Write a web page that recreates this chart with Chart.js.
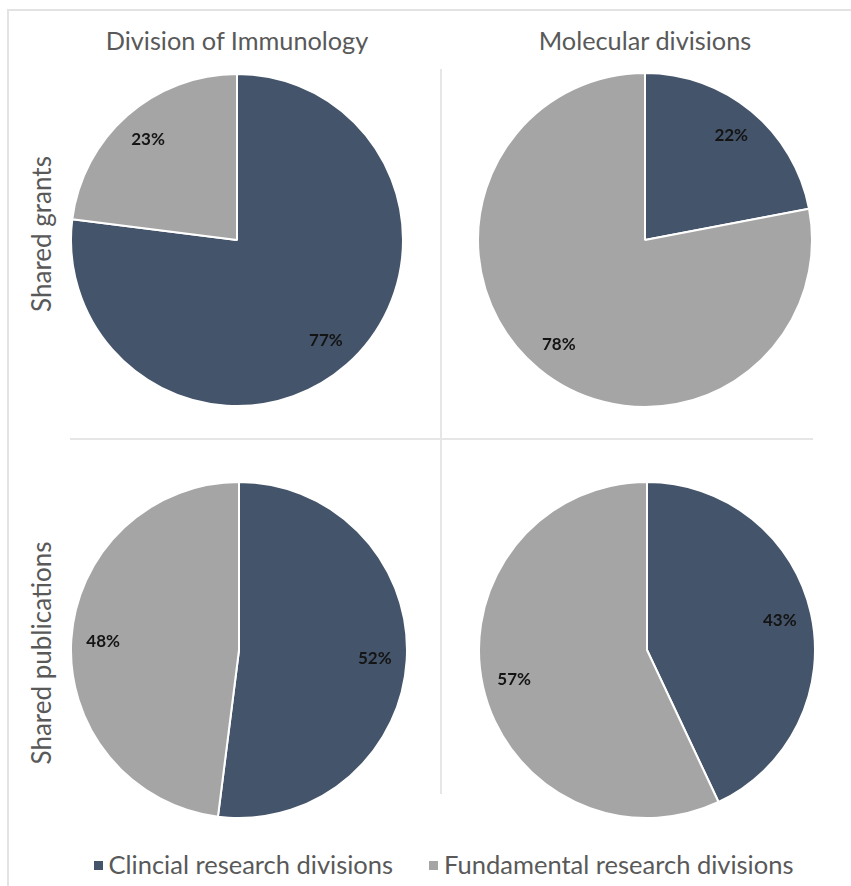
<!DOCTYPE html>
<html>
<head>
<meta charset="utf-8">
<script src="https://cdn.jsdelivr.net/npm/chart.js@4"></script>
<style>
  body { margin: 0; background: #fff; font-family: Lato, "Open Sans", sans-serif; color: #595959; }
  #page { position: relative; width: 851px; height: 886px; overflow: hidden; }
  .frame { position: absolute; left: 7px; top: 9px; width: 860px; height: 900px; border-left: 2px solid #e3e3e3; border-top: 2px solid #e3e3e3; }
  .vline { position: absolute; left: 440px; top: 69px; width: 2px; height: 725px; background: #e6e6e6; }
  .hline { position: absolute; left: 70px; top: 438px; width: 743px; height: 2px; background: #e6e6e6; }
  .col-title { position: absolute; top: 25px; width: 360px; text-align: center; font-size: 25.3px; }
  .row-title { position: absolute; width: 300px; height: 30px; line-height: 30px; text-align: center; font-size: 26px; transform: rotate(-90deg); transform-origin: center center; }
  .pie { position: absolute; }
  #legend { position: absolute; top: 849px; left: 18px; width: 851px; text-align: center; font-size: 25.5px; }
  #legend span.item { margin: 0 18px; white-space: nowrap; }
  #legend span.box { display: inline-block; width: 9px; height: 9px; margin-right: 6px; vertical-align: 4px; }
</style>
</head>
<body>
<div id="page">
  <div class="frame"></div>
  <div class="vline"></div>
  <div class="hline"></div>
  <div id="titles"></div>
  <canvas id="pie0" class="pie" width="334" height="334"></canvas>
  <canvas id="pie1" class="pie" width="336" height="336"></canvas>
  <canvas id="pie2" class="pie" width="338" height="338"></canvas>
  <canvas id="pie3" class="pie" width="338" height="338"></canvas>
  <div id="legend"></div>
</div>
<script>
const categories = ['Clincial research divisions', 'Fundamental research divisions'];
const columns = ['Division of Immunology', 'Molecular divisions'];
const rows = ['Shared grants', 'Shared publications'];
const immunologyGrants = [77, 23];
const molecularGrants = [22, 78];
const immunologyPublications = [52, 48];
const molecularPublications = [43, 57];
const colors = ['#44546A', '#A5A5A5'];

// pie centres on the page, row by row
const centres = [[237, 240], [645, 240], [239, 650], [647, 650]];
const rowCentres = [234, 653];
const series = [immunologyGrants, molecularGrants, immunologyPublications, molecularPublications];

const titles = document.getElementById('titles');
columns.forEach((c, i) => {
  const d = document.createElement('div');
  d.className = 'col-title';
  d.textContent = c;
  d.style.left = (centres[i][0] - 180) + 'px';
  titles.appendChild(d);
});
rows.forEach((r, i) => {
  const d = document.createElement('div');
  d.className = 'row-title';
  d.textContent = r;
  d.style.left = (41 - 150) + 'px';
  d.style.top = (rowCentres[i] - 15) + 'px';
  titles.appendChild(d);
});

const legend = document.getElementById('legend');
categories.forEach((c, i) => {
  legend.innerHTML += '<span class="item"><span class="box" style="background:' + colors[i] + '"></span>' + c + '</span>';
});

// percentage labels placed near the outer edge of each slice
const sliceLabels = {
  id: 'sliceLabels',
  afterDatasetsDraw(chart) {
    const ctx = chart.ctx;
    const meta = chart.getDatasetMeta(0);
    const data = chart.data.datasets[0].data;
    ctx.save();
    ctx.font = 'bold 17px Lato, sans-serif';
    ctx.fillStyle = '#141414';
    ctx.textAlign = 'center';
    ctx.textBaseline = 'middle';
    meta.data.forEach((arc, i) => {
      const p = arc.getProps(['x', 'y', 'startAngle', 'endAngle', 'outerRadius'], true);
      const mid = (p.startAngle + p.endAngle) / 2;
      const r = p.outerRadius * 0.81;
      ctx.fillText(data[i] + '%', p.x + Math.cos(mid) * r, p.y + Math.sin(mid) * r);
    });
    ctx.restore();
  }
};

series.forEach((values, i) => {
  const canvas = document.getElementById('pie' + i);
  const half = canvas.width / 2;
  canvas.style.left = (centres[i][0] - half) + 'px';
  canvas.style.top = (centres[i][1] - half) + 'px';
  new Chart(canvas, {
    type: 'pie',
    data: {
      labels: categories,
      datasets: [{
        data: values,
        backgroundColor: colors,
        borderColor: '#ffffff',
        borderWidth: 2
      }]
    },
    options: {
      responsive: false,
      animation: false,
      layout: { padding: 0 },
      plugins: {
        legend: { display: false },
        tooltip: { enabled: false }
      }
    },
    plugins: [sliceLabels]
  });
});
</script>
</body>
</html>
